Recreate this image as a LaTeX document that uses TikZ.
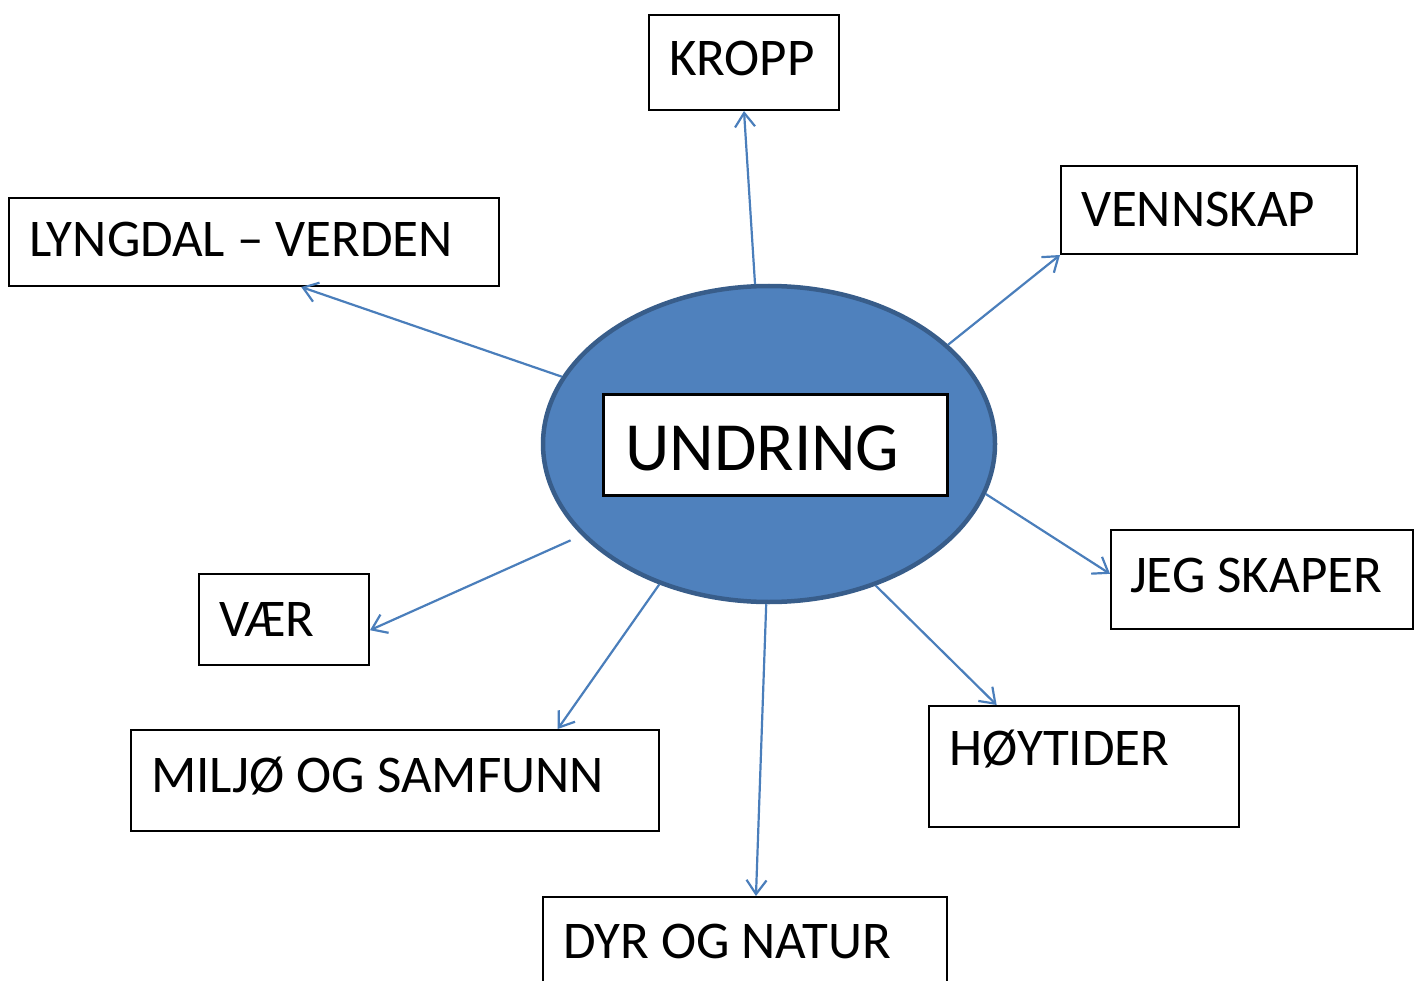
\documentclass[tikz,border=0pt]{standalone}
\usepackage{fontspec}
\setmainfont{Carlito}
\usetikzlibrary{shapes.geometric,arrows.meta,calc}
\definecolor{fillblue}{HTML}{4F81BD}
\definecolor{edgeblue}{HTML}{385D8A}
\definecolor{arrowblue}{HTML}{4A7EBB}
\newcommand\boxtext[2]{\makebox[#1][l]{#2}}
\begin{document}
\begin{tikzpicture}[x=1pt,y=-1pt,
  box/.style={draw=black, line width=2pt, rectangle, anchor=north west,
    inner xsep=20pt, inner ysep=0pt,
    font=\fontsize{53}{58}\selectfont, text height=33.5pt},
  conn/.style={draw=arrowblue, line width=2.2pt,
    -{Straight Barb[length=14pt,width=20pt,line width=2.2pt]}}]
\useasboundingbox (0,0) rectangle (1418,981);
\node[ellipse, fill=fillblue, draw=edgeblue, line width=4.5pt,
  minimum width=452pt, minimum height=316pt, inner sep=0pt] (ell) at (769,444) {};
\node[draw=black, line width=2.5pt, rectangle, anchor=north west, fill=white,
  inner xsep=22pt, inner ysep=0pt,
  minimum height=101pt, font=\fontsize{69}{76}\selectfont,
  text height=51.6pt, text depth=0pt] (und) at (602,393) {\boxtext{300pt}{UNDRING}};
\node[box, minimum height=95pt, text depth=8pt] (kr) at (648,14) {\boxtext{150pt}{KROPP}};
\node[box, minimum height=88pt, text depth=0pt] (ve) at (1060,165) {\boxtext{256pt}{VENNSKAP}};
\node[box, minimum height=88pt, text depth=5pt] (ly) at (8,197) {\boxtext{450pt}{LYNGDAL – VERDEN}};
\node[box, minimum height=99pt, text depth=7pt, inner xsep=19pt] (jeg) at (1110,529) {\boxtext{264pt}{JEG SKAPER}};
\node[box, minimum height=91pt, text depth=0pt] (vaer) at (198,573) {\boxtext{130pt}{VÆR}};
\node[box, minimum height=121pt, text depth=36pt] (hoy) at (928,705) {\boxtext{270pt}{HØYTIDER}};
\node[box, minimum height=101pt, text depth=10pt] (mil) at (130,729) {\boxtext{488pt}{MILJØ OG SAMFUNN}};
\node[box, minimum height=96pt, text depth=7pt] (dyr) at (542,896) {\boxtext{364pt}{DYR OG NATUR}};
\draw[conn] (ell.95.4) -- (kr.south);
\draw[conn] (ell.29.2) -- (ve.south west);
\draw[conn] (ell.162.6) -- ($(ly.south west)!0.596!(ly.south east)$);
\draw[conn] (ell.-13.5) -- ($(jeg.south west)!0.556!(jeg.north west)$);
\draw[conn] (ell.-53.2) -- ($(hoy.north west)!0.22!(hoy.north east)$);
\draw[conn] (ell.-91.8) -- ($(dyr.north west)!0.527!(dyr.north east)$);
\draw[conn] (ell.-128) -- ($(mil.north west)!0.807!(mil.north east)$);
\draw[conn, shorten <=12pt] (ell.-154.3) -- ($(vaer.south east)!0.385!(vaer.north east)$);
\end{tikzpicture}
\end{document}
